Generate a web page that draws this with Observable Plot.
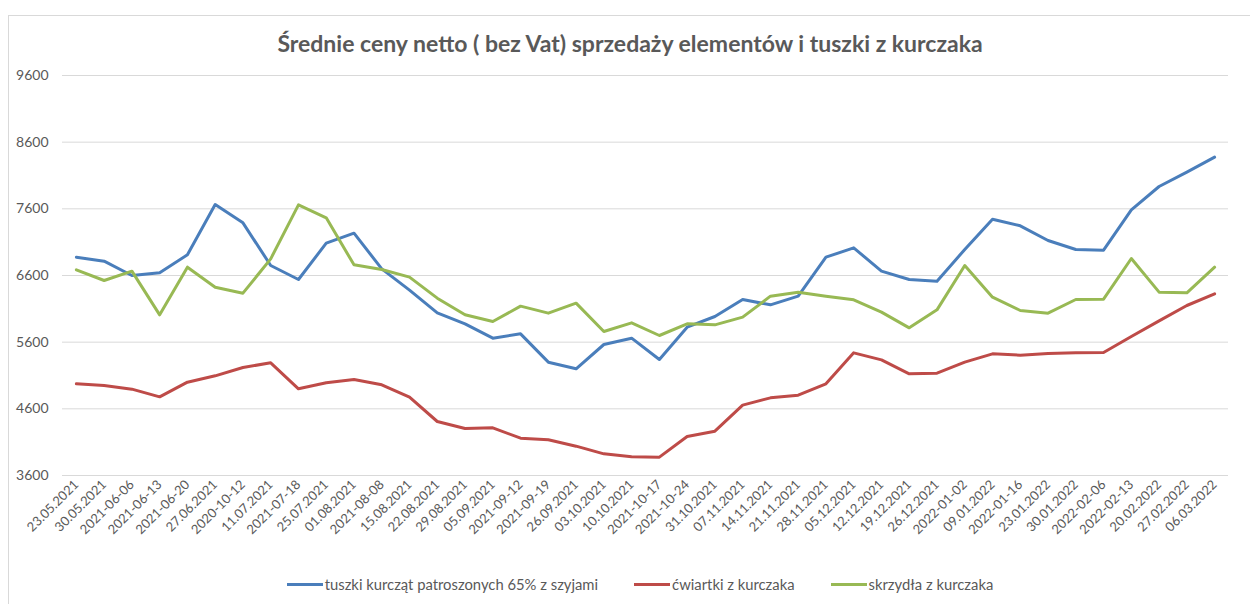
<!DOCTYPE html>
<html>
<head>
<meta charset="utf-8">
<script src="https://cdn.jsdelivr.net/npm/d3@7"></script>
<script src="https://cdn.jsdelivr.net/npm/@observablehq/plot@0.6"></script>
<style>
  body { margin: 0; background: #fff; }
  #wrap { position: relative; width: 1250px; height: 604px; overflow: hidden; font-family: Lato, "Open Sans", sans-serif; color: #595959; }
  #frame { position: absolute; left: 8px; top: 15px; width: 1400px; height: 800px; border: 1px solid #d9d9d9; box-sizing: border-box; }
  #title { position: absolute; top: 29px; left: 0; width: 1260px; text-align: center; font-size: 23px; font-weight: bold; color: #595959; }
  #chart { position: absolute; top: 60px; left: 0; }
  #legend { position: absolute; top: 575px; left: 0; width: 1280px; display: flex; justify-content: center; gap: 36px; font-size: 14.8px; color: #595959; }
  .item { display: flex; align-items: center; gap: 2px; }
  .sw { width: 36px; height: 3px; }
</style>
</head>
<body>
<div id="wrap">
  <div id="frame"></div>
  <div id="title">Średnie ceny netto ( bez Vat) sprzedaży elementów i tuszki z kurczaka</div>
  <div id="chart"></div>
  <div id="legend"></div>
</div>
<script>
const dates = ["23.05.2021","30.05.2021","2021-06-06","2021-06-13","2021-06-20","27.06.2021","2020-10-12","11.07.2021","2021-07-18","25.07.2021","01.08.2021","2021-08-08","15.08.2021","22.08.2021","29.08.2021","05.09.2021","2021-09-12","2021-09-19","26.09.2021","03.10.2021","10.10.2021","2021-10-17","2021-10-24","31.10.2021","07.11.2021","14.11.2021","21.11.2021","28.11.2021","05.12.2021","12.12.2021","19.12.2021","26.12.2021","2022-01-02","09.01.2022","2022-01-16","23.01.2022","30.01.2022","2022-02-06","2022-02-13","20.02.2022","27.02.2022","06.03.2022"];

const tuszki = [6875,6815,6600,6640,6910,7665,7390,6750,6540,7085,7235,6700,6380,6040,5875,5660,5725,5300,5200,5565,5660,5340,5825,5985,6240,6160,6290,6875,7015,6665,6540,6515,6990,7445,7345,7125,6990,6980,7585,7935,8150,8375];

const cwiartki = [4975,4950,4895,4780,5000,5095,5220,5290,4900,4990,5040,4960,4775,4410,4305,4315,4160,4135,4040,3925,3880,3875,4185,4265,4655,4765,4805,4975,5440,5335,5125,5135,5300,5425,5405,5430,5440,5445,5685,5920,6150,6325];

const skrzydla = [6685,6525,6665,6010,6725,6425,6335,6850,7660,7465,6760,6690,6575,6260,6010,5910,6140,6035,6185,5760,5890,5700,5875,5860,5975,6290,6350,6290,6235,6050,5815,6085,6750,6275,6075,6035,6240,6245,6855,6350,6340,6725];

const seriesNames = ["tuszki kurcząt patroszonych 65% z szyjami", "ćwiartki z kurczaka", "skrzydła z kurczaka"];
const seriesColors = ["#4a7ebb", "#be4b48", "#98b954"];
const yTicks = [3600, 4600, 5600, 6600, 7600, 8600, 9600];

const seriesValues = [tuszki, cwiartki, skrzydla];
const data = [];
seriesValues.forEach((vals, s) => vals.forEach((v, i) => data.push({date: dates[i], value: v, series: seriesNames[s]})));

const plot = Plot.plot({
  width: 1250,
  height: 480,
  marginTop: 15,
  marginBottom: 65,
  marginLeft: 62,
  marginRight: 22,
  style: {fontFamily: "Lato, 'Open Sans', sans-serif", color: "#595959", background: "transparent"},
  x: {type: "point", domain: dates, padding: 0.5},
  y: {domain: [3600, 9600]},
  color: {domain: seriesNames, range: seriesColors},
  marks: [
    Plot.gridY(yTicks, {stroke: "#d9d9d9", strokeOpacity: 1, strokeWidth: 1}),
    Plot.axisY(yTicks, {tickSize: 0, tickPadding: 14, fontSize: 14, label: null, tickFormat: d => String(d), fill: "#595959"}),
    Plot.axisX({tickSize: 0, tickRotate: -45, tickPadding: 7, fontSize: 13, label: null, fill: "#595959"}),
    Plot.line(data, {x: "date", y: "value", z: "series", stroke: "series", strokeWidth: 3, strokeLinejoin: "round", strokeLinecap: "round"})
  ]
});
document.getElementById("chart").appendChild(plot);

const legend = document.getElementById("legend");
seriesNames.forEach((name, i) => {
  const item = document.createElement("div");
  item.className = "item";
  const sw = document.createElement("div");
  sw.className = "sw";
  sw.style.background = seriesColors[i];
  const t = document.createElement("span");
  t.textContent = name;
  item.appendChild(sw);
  item.appendChild(t);
  legend.appendChild(item);
});
</script>
</body>
</html>
